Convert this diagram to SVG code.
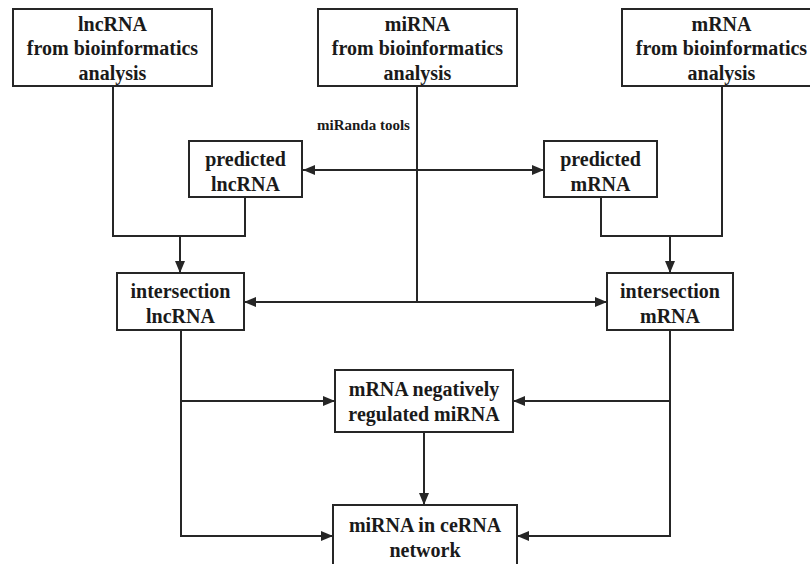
<svg xmlns="http://www.w3.org/2000/svg" width="810" height="564" viewBox="0 0 810 564">
<style>
.box{fill:#fff;stroke:#262626;stroke-width:2}
.t{font-family:"Liberation Serif","Times New Roman",serif;font-weight:bold;font-size:20px;fill:#1a1a1a;text-anchor:middle}
.s{font-family:"Liberation Serif","Times New Roman",serif;font-weight:bold;font-size:15px;fill:#1a1a1a}
.c{fill:none;stroke:#262626;stroke-width:2}
</style>
<defs>
<marker id="ah" viewBox="0 0 12 10" refX="12" refY="5" markerWidth="12" markerHeight="10" markerUnits="userSpaceOnUse" orient="auto-start-reverse">
<path d="M0,0 L12,5 L0,10 z" fill="#262626"/>
</marker>
</defs>
<rect width="810" height="564" fill="#fff"/>
<g id="connectors">
<polyline class="c" points="113,86 113,236 245,236 245,197"/>
<line class="c" x1="180" y1="236" x2="180" y2="273" marker-end="url(#ah)"/>
<polyline class="c" points="722,86 722,236 601,236 601,197"/>
<line class="c" x1="670" y1="236" x2="670" y2="273" marker-end="url(#ah)"/>
<line class="c" x1="417" y1="86" x2="417" y2="302"/>
<line class="c" x1="303" y1="170" x2="544" y2="170" marker-start="url(#ah)" marker-end="url(#ah)"/>
<line class="c" x1="244" y1="302" x2="607" y2="302" marker-start="url(#ah)" marker-end="url(#ah)"/>
<polyline class="c" points="181,330 181,536 333,536" marker-end="url(#ah)"/>
<line class="c" x1="181" y1="401" x2="335" y2="401" marker-end="url(#ah)"/>
<polyline class="c" points="670,330 670,536 517,536" marker-end="url(#ah)"/>
<line class="c" x1="670" y1="401" x2="513" y2="401" marker-end="url(#ah)"/>
<line class="c" x1="424" y1="432" x2="424" y2="505" marker-end="url(#ah)"/>
<text class="s" x="317" y="130">miRanda tools</text>
</g>
<g id="lnc-src">
<rect class="box" x="13" y="9" width="199" height="77"/>
<text class="t" x="112.5" y="31">lncRNA</text>
<text class="t" x="112.5" y="55">from bioinformatics</text>
<text class="t" x="112.5" y="80">analysis</text>
</g>
<g id="mi-src">
<rect class="box" x="318" y="9" width="199" height="77"/>
<text class="t" x="417.5" y="31">miRNA</text>
<text class="t" x="417.5" y="55">from bioinformatics</text>
<text class="t" x="417.5" y="80">analysis</text>
</g>
<g id="m-src">
<rect class="box" x="622" y="9" width="199" height="77"/>
<text class="t" x="721.5" y="31">mRNA</text>
<text class="t" x="721.5" y="55">from bioinformatics</text>
<text class="t" x="721.5" y="80">analysis</text>
</g>
<g id="pred-lnc">
<rect class="box" x="189" y="141" width="113" height="56"/>
<text class="t" x="245.5" y="166">predicted</text>
<text class="t" x="245.5" y="191">lncRNA</text>
</g>
<g id="pred-m">
<rect class="box" x="544" y="141" width="113" height="56"/>
<text class="t" x="600.5" y="166">predicted</text>
<text class="t" x="600.5" y="191">mRNA</text>
</g>
<g id="int-lnc">
<rect class="box" x="117" y="273" width="127" height="57"/>
<text class="t" x="180.5" y="298">intersection</text>
<text class="t" x="180.5" y="323">lncRNA</text>
</g>
<g id="int-m">
<rect class="box" x="607" y="273" width="126" height="57"/>
<text class="t" x="670" y="298">intersection</text>
<text class="t" x="670" y="323">mRNA</text>
</g>
<g id="neg">
<rect class="box" x="335" y="370" width="178" height="62"/>
<text class="t" x="424" y="396">mRNA negatively</text>
<text class="t" x="424" y="421">regulated miRNA</text>
</g>
<g id="cerna">
<rect class="box" x="333" y="505" width="184" height="70"/>
<text class="t" x="425" y="532">miRNA in ceRNA</text>
<text class="t" x="425" y="557">network</text>
</g>
</svg>
